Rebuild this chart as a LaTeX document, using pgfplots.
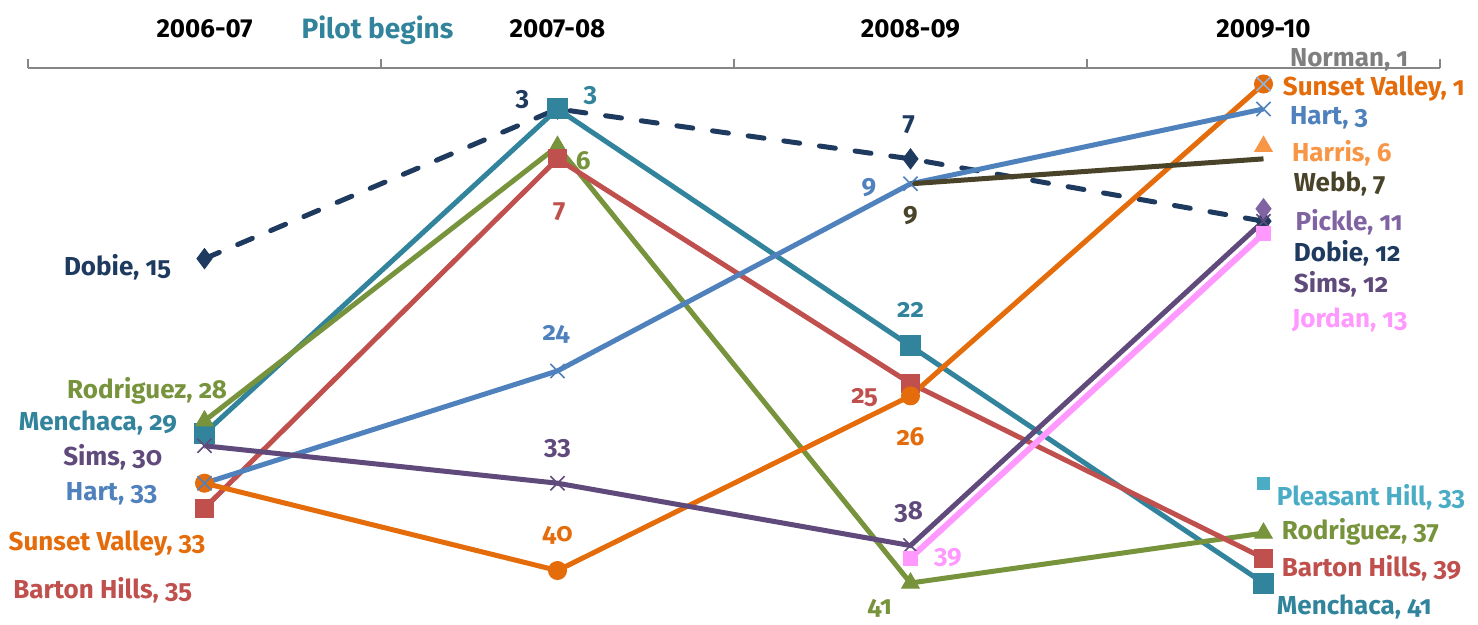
\documentclass[border=0pt]{standalone}
\usepackage{fontspec}
\setmainfont{Fira Sans}[Numbers=OldStyle]
\usepackage{pgfplots}
\pgfplotsset{compat=1.18}
\definecolor{dobiec}{HTML}{1F3A5F}
\definecolor{menchac}{HTML}{31849B}
\definecolor{rodc}{HTML}{77933C}
\definecolor{bartc}{HTML}{C0504D}
\definecolor{hartc}{HTML}{4F81BD}
\definecolor{simsc}{HTML}{604A7B}
\definecolor{sunc}{HTML}{E46C0A}
\definecolor{webbc}{HTML}{494429}
\definecolor{jordc}{HTML}{FF99FF}
\definecolor{pickc}{HTML}{8064A2}
\definecolor{harrc}{HTML}{F79646}
\definecolor{normc}{HTML}{7F7F7F}
\definecolor{normm}{HTML}{95B3D7}
\definecolor{pleac}{HTML}{4BACC6}
\definecolor{axisgray}{HTML}{868686}
\tikzset{lab/.style={font=\bfseries\fontsize{13bp}{15bp}\selectfont, inner sep=0pt}}
\begin{document}
\begin{tikzpicture}
\path[use as bounding box] (0,0) rectangle (739bp,312.5bp);
\begin{axis}[
  at={(14bp,0)}, anchor=south west,
  scale only axis, width=706bp, height=278.5bp,
  xmin=-0.5, xmax=3.5, ymin=-0.2826, ymax=44.367, y dir=reverse,
  axis x line*=top, axis y line=none,
  axis line style={draw=axisgray, line width=0.75bp, -},
  xtick={0,1,2,3}, xticklabels={2006-07,2007-08,2008-09,2009-10},
  major tick length=0pt,
  minor xtick={-0.5,0.5,1.5,2.5,3.5}, minor tick length=4.5bp, tick align=outside,
  minor tick style={draw=axisgray, line width=0.75bp},
  xticklabel style={font=\bfseries\addfontfeatures{Numbers=Lining}\fontsize{13bp}{15bp}\selectfont, anchor=base, yshift=15.5bp, inner sep=0pt},
  clip=false,
  every axis plot/.append style={line width=2.5bp},
]
\addplot[dobiec, dash pattern=on 8bp off 10bp, line cap=round, mark=diamond*, mark size=5bp, mark options={solid, fill=dobiec, line width=0.5bp}] coordinates {(0,15)(1,3)(2,7)(3,12)};
\addplot[menchac, mark=square*, mark size=5bp, mark options={fill=menchac, line width=0.5bp}] coordinates {(0,29)(1,3)(2,22)(3,41)};
\addplot[rodc, mark=triangle*, mark size=5bp, mark options={fill=rodc, line width=0.5bp}] coordinates {(0,28)(1,6)(2,41)(3,37)};
\addplot[bartc, mark=square*, mark size=4.5bp, mark options={fill=bartc, line width=0.5bp}] coordinates {(0,35)(1,7)(2,25)(3,39)};
\addplot[sunc, mark=*, mark size=4.5bp, mark options={fill=sunc, line width=0.5bp}] coordinates {(0,33)(1,40)(2,26)(3,1)};
\addplot[hartc, mark=x, mark size=5bp, mark options={line width=0.8bp}] coordinates {(0,33)(1,24)(2,9)(3,3)};
\addplot[simsc, mark=x, mark size=5bp, mark options={line width=0.8bp}] coordinates {(0,30)(1,33)(2,38)(3,12)};
\addplot[webbc, mark=none] coordinates {(2,9)(3,7)};
\addplot[jordc, line width=3bp, mark=square*, mark size=3.5bp, mark options={fill=jordc, line width=0.5bp}] coordinates {(2,39)(3,13)};
\addplot[pickc, only marks, mark=diamond*, mark size=5bp, mark options={fill=pickc, line width=0.5bp}] coordinates {(3,11)};
\addplot[harrc, only marks, mark=triangle*, mark size=5bp, mark options={fill=harrc, line width=0.5bp}] coordinates {(3,6)};
\addplot[normm, only marks, mark=x, mark size=5bp, mark options={line width=0.8bp}] coordinates {(3,1)};
\addplot[pleac, only marks, mark=square*, mark size=3bp, mark options={fill=pleac, line width=0.5bp}] coordinates {(3,33)};
% category annotation
\node[font=\fontsize{14bp}{16bp}\selectfont\bfseries, text=menchac, inner sep=0pt] at (axis cs:0.49,-3.3) {Pilot begins};
% left labels
\node[lab, text=dobiec, anchor=east] at (axis cs:-0.094,15.67) {Dobie, 15};
\node[lab, text=rodc, anchor=east] at (axis cs:0.065,25.6) {Rodriguez, 28};
\node[lab, text=menchac, anchor=east] at (axis cs:-0.077,28.17) {Menchaca, 29};
\node[lab, text=simsc, anchor=east] at (axis cs:-0.119,30.9) {Sims, 30};
\node[lab, text=hartc, anchor=east] at (axis cs:-0.133,33.87) {Hart, 33};
\node[lab, text=sunc, anchor=east] at (axis cs:0.003,37.8) {Sunset Valley, 33};
\node[lab, text=bartc, anchor=east] at (axis cs:-0.034,41.56) {Barton Hills, 35};
% right labels
\node[lab, text=normc, anchor=west] at (axis cs:3.074,-0.92) {Norman, 1};
\node[lab, text=sunc, anchor=west] at (axis cs:3.054,1.4) {Sunset Valley, 1};
\node[lab, text=hartc, anchor=west] at (axis cs:3.074,3.73) {Hart, 3};
\node[lab, text=harrc, anchor=west] at (axis cs:3.08,6.53) {Harris, 6};
\node[lab, text=webbc, anchor=west] at (axis cs:3.085,9.02) {Webb, 7};
\node[lab, text=pickc, anchor=west] at (axis cs:3.09,12.06) {Pickle, 11};
\node[lab, text=dobiec, anchor=west] at (axis cs:3.085,14.55) {Dobie, 12};
\node[lab, text=simsc, anchor=west] at (axis cs:3.085,17.03) {Sims, 12};
\node[lab, text=jordc, anchor=west] at (axis cs:3.08,19.92) {Jordan, 13};
\node[lab, text=pleac, anchor=west] at (axis cs:3.037,34.1) {Pleasant Hill, 33};
\node[lab, text=rodc, anchor=west] at (axis cs:3.051,36.9) {Rodriguez, 37};
\node[lab, text=bartc, anchor=west] at (axis cs:3.051,39.8) {Barton Hills, 39};
\node[lab, text=menchac, anchor=west] at (axis cs:3.037,42.92) {Menchaca, 41};
% data labels
\node[lab, text=dobiec] at (axis cs:0.9,2.28) {3};
\node[lab, text=menchac] at (axis cs:1.093,1.96) {3};
\node[lab, text=rodc] at (axis cs:1.073,7.17) {6};
\node[lab, text=bartc] at (axis cs:1.005,11.26) {7};
\node[lab, text=hartc] at (axis cs:0.996,21.1) {24};
\node[lab, text=simsc] at (axis cs:1.0,30.26) {33};
\node[lab, text=sunc] at (axis cs:1.0,37.15) {40};
\node[lab, text=dobiec] at (axis cs:1.995,4.29) {7};
\node[lab, text=hartc] at (axis cs:1.882,9.34) {9};
\node[lab, text=webbc] at (axis cs:2.0,11.58) {9};
\node[lab, text=menchac] at (axis cs:2.0,19.1) {22};
\node[lab, text=bartc] at (axis cs:1.87,26.17) {25};
\node[lab, text=sunc] at (axis cs:2.0,29.3) {26};
\node[lab, text=simsc] at (axis cs:1.995,35.3) {38};
\node[lab, text=jordc] at (axis cs:2.106,39.0) {39};
\node[lab, text=rodc] at (axis cs:1.913,43.0) {41};
\end{axis}
\end{tikzpicture}
\end{document}
